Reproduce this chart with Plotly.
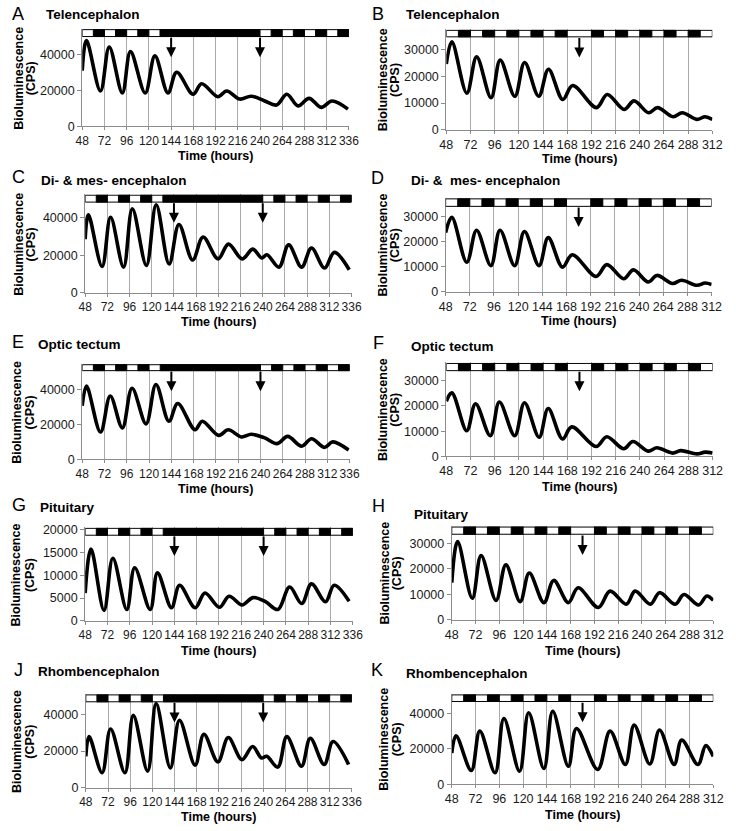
import plotly.graph_objects as go

W, H = 736, 831
FONT = "Liberation Sans, Arial, sans-serif"

# ---------------- data (hours, counts per second) ----------------
a_t = [48, 52.6, 67.7, 77.2, 91.3, 100.1, 116, 126.5, 140.6, 150, 167.7, 176.9, 194.5, 204, 218, 230.4, 244.5, 257.9, 269, 281, 293, 306, 317.7, 335]
a_v = [30900, 47600, 19600, 44000, 18500, 41500, 18500, 39100, 18500, 30000, 17800, 23600, 16400, 19600, 15100, 16700, 14200, 11800, 17800, 11300, 15500, 10500, 14000, 9500]

b_t = [48, 53.5, 68.4, 78.1, 92.4, 101.5, 116, 125.7, 139.7, 149.4, 163.6, 173.4, 197, 207.7, 224.5, 234.3, 248.8, 257.6, 273, 282.2, 296.5, 304.9, 312]
b_v = [24500, 32800, 13700, 27200, 12000, 26000, 12500, 25100, 12500, 22600, 11300, 16500, 8300, 13200, 7600, 10800, 6400, 8300, 4900, 6400, 3900, 4900, 3900]

c_t = [48, 51.5, 66.3, 75.5, 89.5, 99, 114.2, 124.8, 138.8, 149.4, 164.2, 175.5, 191.7, 202.9, 217.7, 229.3, 238.8, 244.5, 257.5, 268, 282, 292.7, 306.8, 317.4, 333.5]
c_v = [28600, 41700, 14000, 40300, 13700, 44900, 14600, 47000, 15400, 36500, 17500, 29800, 18100, 26000, 18100, 23300, 18600, 20300, 13700, 25600, 13700, 23900, 13200, 21600, 12300]

d_t = [48, 54.1, 69, 78.7, 92.9, 102, 116.5, 126.2, 140.7, 149.8, 164, 173.7, 197.3, 208, 224.7, 234.4, 249, 257.7, 273.2, 282.2, 297.4, 305.5, 312]
d_v = [23500, 29600, 11700, 24400, 10400, 24400, 10400, 23900, 10400, 21500, 9800, 14700, 6100, 10800, 5200, 8700, 3900, 6500, 3300, 4600, 2600, 3500, 2900]

e_t = [48, 52.6, 67.7, 78.2, 91.2, 101.7, 116.8, 127.4, 141.4, 150.9, 169.5, 177.3, 194.8, 205.4, 219.4, 230, 244, 258, 269.3, 284.4, 295, 309, 317.8, 335]
e_v = [30600, 41900, 15600, 36200, 18000, 40600, 20300, 42800, 21800, 31900, 16900, 21800, 13700, 16900, 12800, 14300, 12400, 9000, 13100, 7500, 11800, 6800, 10000, 5300]

f_t = [48, 53.5, 68.3, 77, 91.6, 100.6, 115.8, 125.5, 140, 149, 163.2, 172.3, 196.5, 207.1, 223.9, 232.9, 248.1, 256.8, 272.3, 280.4, 296.5, 304.6, 312]
f_v = [21900, 25200, 10200, 20900, 8200, 21600, 8200, 21300, 7600, 19000, 6900, 11700, 3900, 7800, 3000, 5900, 2100, 3400, 1300, 2300, 1000, 1700, 1300]

g_t = [48, 54.3, 68.3, 77.8, 92.8, 101.3, 118, 125.8, 140.9, 149.6, 166.4, 176.9, 192.4, 202.9, 216.9, 228.5, 242, 255.4, 268, 281, 291.5, 306.6, 316, 332]
g_v = [6100, 15700, 2300, 13700, 2500, 11600, 2500, 10500, 2900, 7800, 2900, 6100, 3000, 5400, 3500, 5100, 4200, 2500, 7400, 3800, 8100, 4200, 7800, 4300]

h_t = [48, 53.9, 68.7, 77.6, 92.7, 102.6, 117, 126.2, 141, 150.9, 165.7, 175.5, 195.9, 207.8, 224.2, 233.1, 248.5, 257.7, 273.5, 282.4, 297.2, 305.4, 312]
h_v = [14600, 30700, 8500, 25200, 7700, 21600, 7200, 18400, 6800, 15500, 6800, 12600, 4900, 11300, 6200, 11300, 6200, 10700, 6200, 10000, 5900, 9400, 7700]

j_t = [48, 51.5, 65.6, 74.8, 90.3, 99.4, 114.9, 124.1, 139.5, 149.4, 166.3, 175.8, 191, 202.2, 217, 228.6, 238.1, 243.8, 255.8, 265.6, 281.5, 291, 306.1, 315.6, 332.5]
j_v = [17100, 27900, 8100, 32100, 8100, 39600, 9000, 46000, 10800, 36900, 12300, 29200, 14100, 27400, 15300, 22500, 16200, 17100, 11200, 27900, 11700, 27000, 12600, 25200, 12600]

k_t = [48, 52.3, 67.7, 76.3, 91.7, 100.6, 116.4, 125.6, 141, 149.9, 165.7, 173.9, 195.3, 207.8, 223.2, 232.1, 247.9, 257.7, 272.5, 280.1, 296.5, 304.4, 312]
k_v = [17700, 27500, 7800, 30100, 6500, 37200, 7400, 40500, 8900, 41300, 10200, 31600, 8400, 30100, 11200, 33500, 11500, 30700, 11200, 25100, 11200, 21900, 15800]

# light/dark schedules (dark intervals, hours)
dark_left = [(60, 72), (84, 96), (108, 120), (132, 240), (252, 264), (276, 288), (300, 312), (324, 336)]
dark_right = [(60, 72), (84, 96), (108, 120), (132, 144), (156, 168), (192, 204), (216, 228), (240, 252), (264, 276), (288, 300)]
arrows_left = [144, 240]
arrows_right = [180]

ticks_left = list(range(48, 337, 24))
ticks_right = list(range(48, 313, 24))
yt_40 = [0, 20000, 40000]
yt_30 = [0, 10000, 20000, 30000]
yt_20 = [0, 5000, 10000, 15000, 20000]

titles = {"A": "Telencephalon", "B": "Telencephalon", "C": "Di- & mes- encephalon",
          "D": "Di- &  mes- encephalon", "E": "Optic tectum", "F": "Optic tectum",
          "G": "Pituitary", "H": "Pituitary", "J": "Rhombencephalon", "K": "Rhombencephalon"}

series = {"A": (a_t, a_v), "B": (b_t, b_v), "C": (c_t, c_v), "D": (d_t, d_v), "E": (e_t, e_v),
          "F": (f_t, f_v), "G": (g_t, g_v), "H": (h_t, h_v), "J": (j_t, j_v), "K": (k_t, k_v)}

# ---------------- layout geometry (pixels) ----------------
geom = {
    "A": dict(col=0, x0=77, x1=350, y0=123, ref=(40000, 50), bb=32, bt=25, yt=yt_40, letter=(3, 12), title=(38, 13), ytl=(12, 25), xdy=30),
    "B": dict(col=1, x0=449.7, x1=722, y0=126.7, ref=(30000, 45), bb=32.3, bt=25.7, yt=yt_30, letter=(372, 12), title=(406, 13), ytl=(385, 397), xdy=30),
    "C": dict(col=0, x0=80, x1=352.7, y0=292, ref=(40000, 216), bb=200, bt=193, yt=yt_40, letter=(3, 177.5), title=(33, 181), ytl=(12, 25), xdy=30),
    "D": dict(col=1, x0=449, x1=721.3, y0=291, ref=(30000, 214.3), bb=204.3, bt=196.7, yt=yt_30, letter=(371, 178.5), title=(411, 181), ytl=(385, 397), xdy=30),
    "E": dict(col=0, x0=77, x1=350.7, y0=461, ref=(40000, 390), bb=371, bt=365, yt=yt_40, letter=(3, 345), title=(30, 347), ytl=(10, 24), xdy=30),
    "F": dict(col=1, x0=449.7, x1=722.3, y0=458, ref=(30000, 381.3), bb=371, bt=363.7, yt=yt_30, letter=(373, 346), title=(411, 350), ytl=(385, 397), xdy=31),
    "G": dict(col=0, x0=80, x1=354, y0=625, ref=(20000, 532), bb=538, bt=531, yt=yt_20, letter=(3, 510), title=(32, 513), ytl=(9, 23), xdy=30),
    "H": dict(col=1, x0=455.3, x1=723, y0=624, ref=(30000, 546.3), bb=537, bt=529.7, yt=yt_30, letter=(372, 511), title=(415, 520), ytl=(386, 399), xdy=31),
    "J": dict(col=0, x0=80.7, x1=353, y0=794, ref=(40000, 720), bb=707, bt=700, yt=yt_40, letter=(5, 678), title=(30, 679), ytl=(10, 24), xdy=30),
    "K": dict(col=1, x0=455.3, x1=723, y0=790.7, ref=(40000, 719), bb=706.7, bt=700, yt=yt_40, letter=(371, 678), title=(406, 681), ytl=(386, 399), xdy=31),
}
TEXT_SHIFT = 3  # upward correction for letter / title placement

GRID = "#ababab"
AXIS = "#8c8c8c"

fig = go.Figure()
layout = dict(width=W, height=H, margin=dict(l=0, r=0, t=0, b=0),
              paper_bgcolor="white", plot_bgcolor="white", showlegend=False,
              font=dict(family=FONT, color="black"))
shapes, annos = [], []

def px(xp):
    return xp / W

def py(yp):
    return 1 - yp / H

for i, key in enumerate(["A", "B", "C", "D", "E", "F", "G", "H", "J", "K"]):
    g = geom[key]
    n = i + 1
    xa, ya = f"x{n}", f"y{n}"
    xname = "xaxis" if n == 1 else f"xaxis{n}"
    yname = "yaxis" if n == 1 else f"yaxis{n}"
    xmax = 336 if g["col"] == 0 else 312
    xticks = ticks_left if g["col"] == 0 else ticks_right
    dark = dark_left if g["col"] == 0 else dark_right
    arrows = arrows_left if g["col"] == 0 else arrows_right
    xfs = 12 if g["col"] == 0 else 12.5
    ppu = (g["y0"] - g["ref"][1]) / g["ref"][0]
    top_px = g["bt"] - 1.0
    ytop = (g["y0"] - top_px) / ppu
    bar_lo = (g["y0"] - g["bb"]) / ppu
    bar_hi = (g["y0"] - g["bt"]) / ppu

    t, v = series[key]
    fig.add_trace(go.Scatter(x=t, y=v, mode="lines", xaxis=xa, yaxis=ya,
                             line=dict(color="black", width=3.6, shape="spline", smoothing=1.0),
                             hoverinfo="skip"))

    layout[xname] = dict(domain=[px(g["x0"]), px(g["x1"])], range=[48, xmax], anchor=ya,
                         tickvals=xticks, ticktext=[str(x) for x in xticks], tickangle=0,
                         showgrid=True, gridcolor=GRID, gridwidth=1, zeroline=False,
                         showline=True, linecolor=AXIS, linewidth=1,
                         ticks="outside", ticklen=3, tickcolor=AXIS,
                         tickfont=dict(family=FONT, size=xfs, color="#1a1a1a"))
    layout[yname] = dict(domain=[py(g["y0"]), py(top_px)], range=[0, ytop], anchor=xa,
                         tickvals=g["yt"], ticktext=[str(y) for y in g["yt"]],
                         showgrid=False, zeroline=False,
                         showline=True, linecolor=AXIS, linewidth=1,
                         ticks="outside", ticklen=4, tickcolor=AXIS,
                         tickfont=dict(family=FONT, size=12.5, color="#1a1a1a"))

    # light/dark bar
    shapes.append(dict(type="rect", xref=xa, yref=ya, x0=48, x1=xmax, y0=bar_lo, y1=bar_hi,
                       fillcolor="white", line=dict(color="black", width=1), layer="above"))
    for d0, d1 in dark:
        shapes.append(dict(type="rect", xref=xa, yref=ya, x0=d0, x1=d1, y0=bar_lo, y1=bar_hi,
                           fillcolor="black", line=dict(color="black", width=1), layer="above"))

    # arrows
    tip = (g["y0"] - (g["bb"] + 21)) / ppu
    for ah in arrows:
        annos.append(dict(x=ah, y=tip, xref=xa, yref=ya, ax=0, ay=-21, text="",
                          showarrow=True, arrowhead=2, arrowsize=1.0, arrowwidth=2,
                          arrowcolor="black", standoff=0, startstandoff=0))

    # panel letter and title
    annos.append(dict(x=px(g["letter"][0]), y=py(g["letter"][1] - TEXT_SHIFT), xref="paper", yref="paper",
                      text=key, showarrow=False, xanchor="left", yanchor="middle",
                      font=dict(family=FONT, size=18, color="black")))
    annos.append(dict(x=px(g["title"][0]), y=py(g["title"][1] - TEXT_SHIFT), xref="paper", yref="paper",
                      text=f"<b>{titles[key]}</b>", showarrow=False, xanchor="left", yanchor="middle",
                      font=dict(family=FONT, size=13.5, color="black")))
    ymid = (g["y0"] + g["bt"]) / 2
    annos.append(dict(x=px(g["ytl"][0]), y=py(ymid), xref="paper", yref="paper",
                      text="<b>Bioluminescence</b>", showarrow=False, textangle=-90,
                      xanchor="center", yanchor="middle",
                      font=dict(family=FONT, size=12.5, color="black")))
    annos.append(dict(x=px(g["ytl"][1]), y=py(ymid), xref="paper", yref="paper",
                      text="<b>(CPS)</b>", showarrow=False, textangle=-90,
                      xanchor="center", yanchor="middle",
                      font=dict(family=FONT, size=12.5, color="black")))
    annos.append(dict(x=px((g["x0"] + g["x1"]) / 2), y=py(g["y0"] + g["xdy"]), xref="paper", yref="paper",
                      text="<b>Time (hours)</b>", showarrow=False, xanchor="center", yanchor="middle",
                      font=dict(family=FONT, size=12.5, color="black")))

layout["shapes"] = shapes
layout["annotations"] = annos
fig.update_layout(**layout)

fig.write_html("out.html", config={"displayModeBar": False},
               post_script="document.body.style.margin='0';")
